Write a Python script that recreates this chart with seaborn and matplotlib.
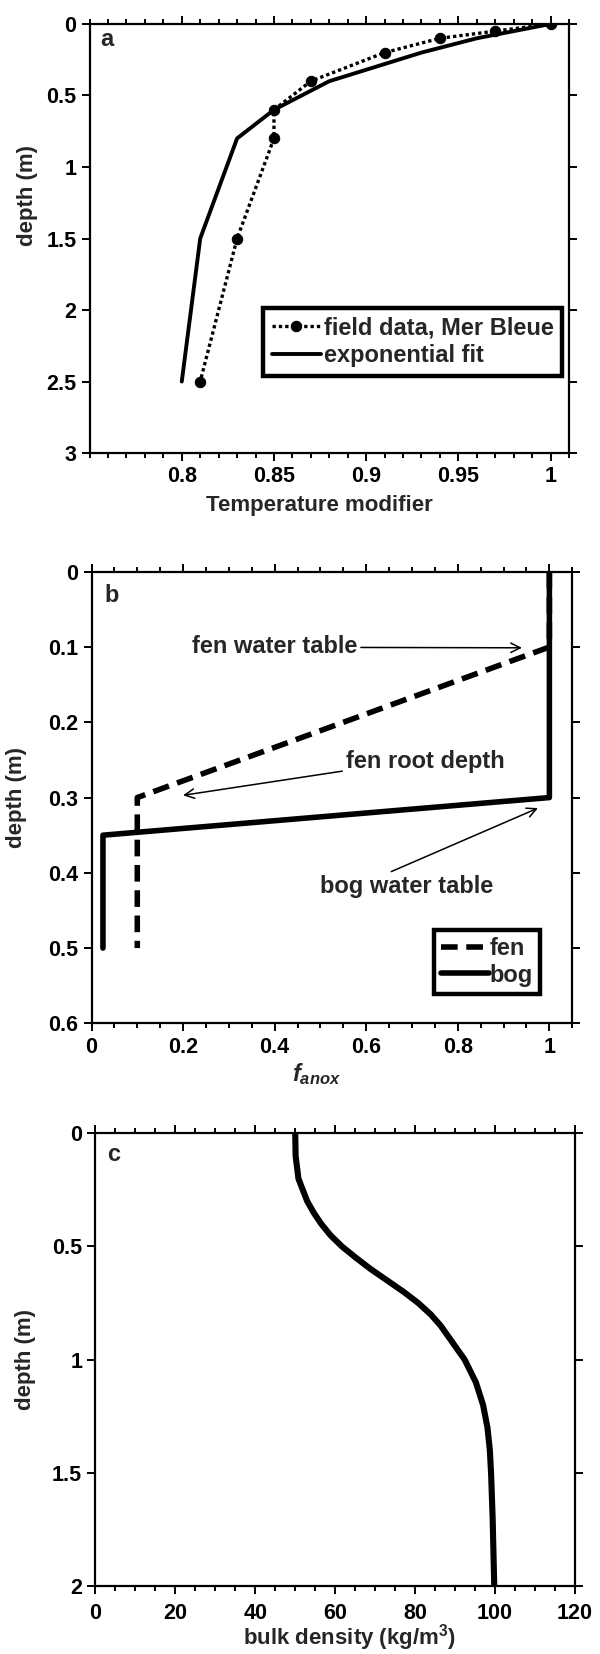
import matplotlib
matplotlib.use('Agg')
import matplotlib.pyplot as plt
import seaborn as sns
from matplotlib.ticker import MultipleLocator, FixedLocator, FuncFormatter

# panel a: temperature modifier vs depth
field_depth = [0, 0.05, 0.1, 0.2, 0.4, 0.6, 0.8, 1.5, 2.5]
field_mod = [1.0, 0.97, 0.94, 0.91, 0.87, 0.85, 0.85, 0.83, 0.81]
fit_depth = [0, 0.1, 0.2, 0.3, 0.4, 0.6, 0.8, 1.5, 2.5]
fit_mod = [1.0, 0.96, 0.93, 0.905, 0.88, 0.85, 0.83, 0.81, 0.80]

# panel b: f_anox vs depth
fen_depth = [0, 0.1, 0.3, 0.5]
fen_f = [1.0, 1.0, 0.1, 0.1]
bog_depth = [0, 0.3, 0.35, 0.5]
bog_f = [1.0, 1.0, 0.025, 0.025]

# panel c: bulk density vs depth
bd_depth = [0, 0.1, 0.2, 0.3, 0.35, 0.4, 0.45, 0.5, 0.55, 0.6, 0.65, 0.7, 0.75,
            0.8, 0.85, 0.9, 1.0, 1.1, 1.2, 1.3, 1.4, 1.5, 1.7, 2.0]
bd_value = [50, 50.1, 50.8, 53.0, 54.6, 56.5, 58.8, 61.7, 65.2, 68.9, 73.0, 77.1, 80.8,
            83.9, 86.4, 88.4, 92.4, 95.2, 97.0, 98.1, 98.7, 99.0, 99.4, 99.8]

sns.set_style('ticks')
plt.rcParams['font.family'] = ['Liberation Sans', 'DejaVu Sans']
plt.rcParams['font.weight'] = 'bold'
plt.rcParams['axes.labelweight'] = 'bold'
plt.rcParams['mathtext.fontset'] = 'custom'
plt.rcParams['mathtext.rm'] = 'Liberation Sans:bold'
plt.rcParams['mathtext.it'] = 'Liberation Sans:italic:bold'
plt.rcParams['axes.linewidth'] = 1.6

fmt = FuncFormatter(lambda v, p: f'{v:g}')
TICK = 15.5
LAB = 16
NOTE = 17
LEG = 17


def style_axis(ax):
    ax.tick_params(which='both', direction='out', top=True, right=True,
                   width=1.4, colors='black', labelsize=TICK)
    ax.tick_params(which='major', length=6)
    ax.tick_params(which='minor', length=3.5)
    ax.xaxis.set_major_formatter(fmt)
    ax.yaxis.set_major_formatter(fmt)
    for s in ax.spines.values():
        s.set_color('black')


fig = plt.figure(figsize=(6, 16.54), dpi=100)

# ---- a ----
ax1 = fig.add_axes([0.1493, 0.7261, 0.799, 0.2594])
sns.lineplot(x=field_mod, y=field_depth, sort=False, estimator=None, ax=ax1,
             color='black', linestyle=(0, (1, 0.9)), lw=2.4, marker='o', markersize=7.5,
             mec='black', mfc='black', label='field data, Mer Bleue')
sns.lineplot(x=fit_mod, y=fit_depth, sort=False, estimator=None, ax=ax1,
             color='black', lw=2.8, label='exponential fit')
ax1.set_xlim(0.75, 1.01)
ax1.set_ylim(3, 0)
ax1.xaxis.set_major_locator(FixedLocator([0.8, 0.85, 0.9, 0.95, 1.0]))
ax1.xaxis.set_minor_locator(MultipleLocator(0.01))
ax1.yaxis.set_major_locator(MultipleLocator(0.5))
style_axis(ax1)
ax1.set_xlabel('Temperature modifier', fontsize=LAB)
ax1.set_ylabel('depth (m)', fontsize=LAB)
ax1.xaxis.set_label_coords(0.48, -0.098)
ax1.yaxis.set_label_coords(-0.108, 0.60)
ax1.text(0.036, 0.963, 'a', transform=ax1.transAxes, fontsize=17, ha='center', va='center')
leg = ax1.legend(loc='upper right', bbox_to_anchor=(0.985, 0.337), fontsize=LEG,
                 frameon=True, fancybox=False, edgecolor='black', framealpha=1,
                 handlelength=2.1, handletextpad=0.1, borderpad=0.35, labelspacing=0.2,
                 numpoints=1, borderaxespad=0)
leg.get_frame().set_linewidth(3.2)

# ---- b ----
ax2 = fig.add_axes([0.1525, 0.3813, 0.8013, 0.273])
sns.lineplot(x=fen_f, y=fen_depth, sort=False, estimator=None, ax=ax2,
             color='black', lw=4.0, dashes=False, label='fen')
ax2.lines[-1].set_dashes((3, 1.55))
sns.lineplot(x=bog_f, y=bog_depth, sort=False, estimator=None, ax=ax2,
             color='black', lw=4.0, label='bog')
ax2.set_xlim(0, 1.05)
ax2.set_ylim(0.6, 0)
ax2.xaxis.set_major_locator(MultipleLocator(0.2))
ax2.xaxis.set_minor_locator(MultipleLocator(0.05))
ax2.yaxis.set_major_locator(MultipleLocator(0.1))
style_axis(ax2)
ax2.set_xlabel(r'$f_{anox}$', fontsize=LAB + 1)
ax2.set_ylabel('depth (m)', fontsize=LAB)
ax2.xaxis.set_label_coords(0.469, -0.083)
ax2.yaxis.set_label_coords(-0.134, 0.50)
ax2.text(0.042, 0.948, 'b', transform=ax2.transAxes, fontsize=17, ha='center', va='center')

arrow = dict(arrowstyle='->', lw=1.1, color='black', shrinkA=0, shrinkB=0)
ax2.annotate('fen water table', xy=(0.94, 0.101), xytext=(0.22, 0.099),
             ha='left', va='center', fontsize=NOTE, arrowprops=dict(arrow, relpos=(1, 0.45)))
ax2.annotate('fen root depth', xy=(0.2, 0.297), xytext=(0.555, 0.252),
             ha='left', va='center', fontsize=NOTE, arrowprops=dict(arrow, relpos=(0, 0.1)))
ax2.annotate('bog water table', xy=(0.975, 0.314), xytext=(0.5, 0.418),
             ha='left', va='center', fontsize=NOTE, arrowprops=dict(arrow, relpos=(0.35, 0.95)))

leg2 = ax2.legend(loc='upper right', bbox_to_anchor=(0.933, 0.2066), fontsize=LEG,
                  frameon=True, fancybox=False, edgecolor='black', framealpha=1,
                  handlelength=2.0, handletextpad=0.05, borderpad=0.3, labelspacing=0.15,
                  borderaxespad=0)
leg2.get_frame().set_linewidth(3.2)

# ---- c ----
ax3 = fig.add_axes([0.159, 0.0411, 0.7993, 0.2737])
sns.lineplot(x=bd_value, y=bd_depth, sort=False, estimator=None, ax=ax3,
             color='black', lw=4.4)
ax3.set_xlim(0, 120)
ax3.set_ylim(2, 0)
ax3.xaxis.set_major_locator(MultipleLocator(20))
ax3.xaxis.set_minor_locator(MultipleLocator(5))
ax3.yaxis.set_major_locator(MultipleLocator(0.5))
style_axis(ax3)
ax3.tick_params(axis='x', which='major', pad=6)
ax3.set_xlabel(r'bulk density (kg/m$^{3}$)', fontsize=LAB)
ax3.set_ylabel('depth (m)', fontsize=LAB)
ax3.xaxis.set_label_coords(0.53, -0.08)
ax3.yaxis.set_label_coords(-0.123, 0.50)
ax3.text(0.038, 0.954, 'c', transform=ax3.transAxes, fontsize=17, ha='center', va='center')

fig.savefig('out.png', dpi=100)
